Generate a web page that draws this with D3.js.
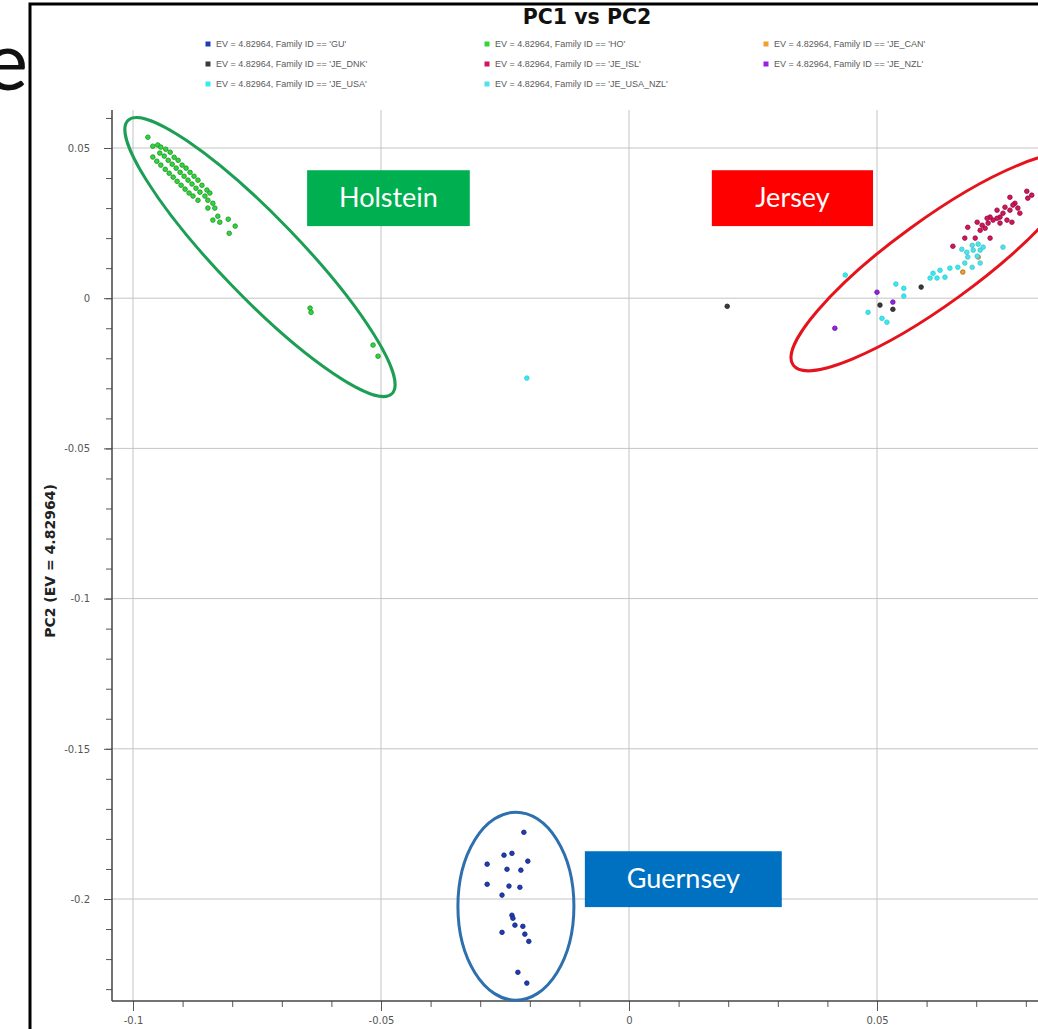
<!DOCTYPE html>
<html>
<head>
<meta charset="utf-8">
<script src="https://cdn.jsdelivr.net/npm/d3@7"></script>
<style>
    body { margin: 0; background: #fff; }
</style>
</head>
<body>
<div id="pca-plot"></div>
<script>
'use strict';

// family ids and legend colours
const familyIds = ['GU', 'HO', 'JE_CAN', 'JE_DNK', 'JE_ISL', 'JE_NZL', 'JE_USA', 'JE_USA_NZL'];
const familyColours = ['#1f3cb8', '#2fd83a', '#f0a02c', '#3a3a3a', '#d6145c', '#9a1fe6', '#36eaf2', '#4ee2ea'];

const xTicks = [-0.1, -0.05, 0, 0.05];
const xTickLabels = ['-0.1', '-0.05', '0', '0.05'];
const yTicks = [0.05, 0, -0.05, -0.1, -0.15, -0.2];
const yTickLabels = ['0.05', '0', '-0.05', '-0.1', '-0.15', '-0.2'];

// [PC1, PC2]
const guPoints = [
    [-0.0212, -0.1778], [-0.0252, -0.1854], [-0.0236, -0.1848], [-0.0204, -0.1874],
    [-0.0286, -0.1884], [-0.0246, -0.1901], [-0.0218, -0.1904], [-0.0286, -0.1951],
    [-0.0242, -0.1957], [-0.0220, -0.1961], [-0.0256, -0.1987], [-0.0236, -0.2054],
    [-0.0234, -0.2064], [-0.0230, -0.2087], [-0.0214, -0.2091], [-0.0256, -0.2111],
    [-0.0210, -0.2117], [-0.0202, -0.2141], [-0.0224, -0.2244], [-0.0206, -0.2280]
];
const hoPoints = [
    [-0.0970, 0.0536],
    [-0.0960, 0.0506], [-0.0950, 0.0510], [-0.0944, 0.0503],
    [-0.0946, 0.0483], [-0.0960, 0.0470], [-0.0934, 0.0496],
    [-0.0937, 0.0473], [-0.0952, 0.0456], [-0.0925, 0.0486],
    [-0.0929, 0.0459], [-0.0944, 0.0443], [-0.0917, 0.0469],
    [-0.0921, 0.0446], [-0.0935, 0.0429], [-0.0909, 0.0459],
    [-0.0913, 0.0433], [-0.0927, 0.0416], [-0.0901, 0.0443],
    [-0.0905, 0.0419], [-0.0919, 0.0403], [-0.0893, 0.0433],
    [-0.0897, 0.0406], [-0.0911, 0.0389], [-0.0885, 0.0419],
    [-0.0889, 0.0393], [-0.0903, 0.0376], [-0.0877, 0.0406],
    [-0.0881, 0.0380], [-0.0895, 0.0363], [-0.0869, 0.0393],
    [-0.0873, 0.0366], [-0.0887, 0.0350], [-0.0861, 0.0376],
    [-0.0865, 0.0353], [-0.0879, 0.0340], [-0.0851, 0.0360],
    [-0.0855, 0.0340], [-0.0869, 0.0326], [-0.0849, 0.0326],
    [-0.0845, 0.0350], [-0.0839, 0.0316], [-0.0835, 0.0300], [-0.0849, 0.0300],
    [-0.0839, 0.0260], [-0.0829, 0.0273], [-0.0825, 0.0253], [-0.0808, 0.0263],
    [-0.0794, 0.0240], [-0.0806, 0.0216], [-0.0643, -0.0033], [-0.0641, -0.0047],
    [-0.0516, -0.0156], [-0.0506, -0.0193]
];
const jeCanPoints = [[0.0704, 0.0137], [0.0673, 0.0087]];
const jeDnkPoints = [[0.0198, -0.0027], [0.0506, -0.0023], [0.0589, 0.0037], [0.0532, -0.0037]];
const jeIslPoints = [
    [0.0768, 0.0336], [0.0802, 0.0356], [0.0804, 0.0333], [0.0778, 0.0316],
    [0.0784, 0.0300], [0.0768, 0.0293], [0.0754, 0.0283], [0.0748, 0.0270],
    [0.0742, 0.0266], [0.0734, 0.0260], [0.0728, 0.0270], [0.0722, 0.0266],
    [0.0762, 0.0260], [0.0772, 0.0253], [0.0748, 0.0250], [0.0724, 0.0250],
    [0.0712, 0.0243], [0.0718, 0.0233], [0.0708, 0.0226], [0.0683, 0.0236],
    [0.0677, 0.0200], [0.0698, 0.0200], [0.0728, 0.0200], [0.0653, 0.0173],
    [0.0742, 0.0293], [0.0758, 0.0303], [0.0788, 0.0283], [0.0702, 0.0253],
    [0.0812, 0.0343], [0.0774, 0.0310]
];
const jeNzlPoints = [[0.0415, -0.0100], [0.0500, 0.0020], [0.0532, -0.0013]];
const jeUsaPoints = [
    [-0.0206, -0.0266], [0.0436, 0.0077], [0.0482, -0.0047], [0.0510, -0.0067],
    [0.0520, -0.0080], [0.0538, 0.0047], [0.0554, 0.0033], [0.0554, 0.0007],
    [0.0607, 0.0067], [0.0613, 0.0083], [0.0621, 0.0067], [0.0627, 0.0093],
    [0.0637, 0.0070], [0.0647, 0.0100], [0.0663, 0.0103]
];
const jeUsaNzlPoints = [
    [0.0671, 0.0163], [0.0677, 0.0117], [0.0681, 0.0153], [0.0683, 0.0137],
    [0.0692, 0.0176], [0.0692, 0.0103], [0.0694, 0.0160], [0.0702, 0.0140],
    [0.0704, 0.0180], [0.0708, 0.0160], [0.0708, 0.0117], [0.0714, 0.0170],
    [0.0754, 0.0170]
];
const familyPoints = [guPoints, hoPoints, jeCanPoints, jeDnkPoints, jeIslPoints, jeNzlPoints, jeUsaPoints, jeUsaNzlPoints];

// breed call-outs: label box corners and ellipse centre / major-axis tip, in PC units
const breedNames = ['Holstein', 'Jersey', 'Guernsey'];
const breedBoxes = [[-0.0649, 0.0426, -0.0321, 0.0240], [0.0167, 0.0426, 0.0492, 0.0240], [-0.0089, -0.1841, 0.0308, -0.2027]];
const breedCentres = [[-0.0744, 0.0137], [0.0617, 0.0120], [-0.0228, -0.2024]];
const breedTips = [[-0.1010, 0.0592], [0.0331, -0.0223], [-0.0228, -0.1711]];

function drawPcaPlot() {
    const width = 1038;
    const height = 1029;
    const plot = { left: 112, right: 1130, top: 110, bottom: 1001 };
    const breedFills = ['#00b050', '#ff0000', '#0070c0'];
    const breedStrokes = ['#1c9f55', '#e5141c', '#2e6fae'];
    const breedHalfWidths = [40, 42, 58];

    const svg = d3.select('#pca-plot')
        .append('svg')
        .attr('width', width)
        .attr('height', height)
        .style('font-family', '"DejaVu Sans", sans-serif');

    const xScale = d3.scaleLinear()
        .domain([-0.1, 0.05])
        .range([133, 877]);

    const yScale = d3.scaleLinear()
        .domain([0.05, -0.2])
        .range([148, 899]);

    // slide text from behind the screenshot, partly off the left edge
    svg.append('text')
        .attr('x', 28)
        .attr('y', 90)
        .attr('text-anchor', 'end')
        .attr('font-family', 'Lato, sans-serif')
        .attr('font-size', 82)
        .attr('fill', '#111')
        .text('e');

    svg.append('rect')
        .attr('x', 30)
        .attr('y', 4)
        .attr('width', 1200)
        .attr('height', 1200)
        .attr('fill', 'none')
        .attr('stroke', '#000')
        .attr('stroke-width', 3);

    svg.append('text')
        .attr('x', 587)
        .attr('y', 24)
        .attr('text-anchor', 'middle')
        .attr('font-size', 20.5)
        .attr('font-weight', 700)
        .attr('fill', '#111')
        .text('PC1 vs PC2');

    const legendCols = [208, 487, 766];
    const legendRows = [44, 64, 84];
    const legend = svg.append('g');
    familyIds.forEach(function (id, i) {
        const x = legendCols[i % 3];
        const y = legendRows[Math.floor(i / 3)];
        legend.append('rect')
            .attr('x', x - 2.5)
            .attr('y', y - 2.5)
            .attr('width', 5)
            .attr('height', 5)
            .attr('fill', familyColours[i]);
        legend.append('text')
            .attr('x', x + 8)
            .attr('y', y + 3)
            .attr('font-family', '"Liberation Sans", sans-serif')
            .attr('font-size', 9)
            .attr('fill', '#5a5a5a')
            .text("EV = 4.82964, Family ID == '" + id + "'");
    });

    // grid
    svg.append('g')
        .selectAll('line')
        .data(xTicks)
        .join('line')
        .attr('x1', d => xScale(d))
        .attr('x2', d => xScale(d))
        .attr('y1', plot.top)
        .attr('y2', plot.bottom)
        .attr('stroke', '#c4c4c4');

    svg.append('g')
        .selectAll('line')
        .data(yTicks)
        .join('line')
        .attr('x1', plot.left)
        .attr('x2', plot.right)
        .attr('y1', d => yScale(d))
        .attr('y2', d => yScale(d))
        .attr('stroke', '#c4c4c4');

    const xMinor = d3.range(-10, 9).map(d => d / 100);
    const yMinor = d3.range(-23, 7).map(d => d / 100);

    const xAxisG = svg.append('g')
        .attr('transform', `translate(0,${plot.bottom})`);
    xAxisG.append('g')
        .call(d3.axisBottom(xScale).tickValues(xMinor).tickSize(6).tickFormat(''));
    xAxisG.append('g')
        .call(d3.axisBottom(xScale).tickValues(xTicks).tickSize(10).tickPadding(6)
            .tickFormat((d, i) => xTickLabels[i]));

    const yAxisG = svg.append('g')
        .attr('transform', `translate(${plot.left},0)`);
    yAxisG.append('g')
        .call(d3.axisLeft(yScale).tickValues(yMinor).tickSize(6).tickFormat(''));
    yAxisG.append('g')
        .call(d3.axisLeft(yScale).tickValues(yTicks).tickSize(8).tickPadding(14)
            .tickFormat((d, i) => yTickLabels[i]));

    svg.selectAll('.domain').remove();
    svg.selectAll('.tick line').attr('stroke', '#555');
    svg.selectAll('.tick text')
        .attr('fill', '#555')
        .attr('font-size', 10)
        .attr('font-family', '"DejaVu Sans", sans-serif');

    svg.append('line')
        .attr('x1', plot.left)
        .attr('x2', plot.right)
        .attr('y1', plot.bottom)
        .attr('y2', plot.bottom)
        .attr('stroke', '#444')
        .attr('stroke-width', 1.5);

    svg.append('line')
        .attr('x1', plot.left)
        .attr('x2', plot.left)
        .attr('y1', plot.top)
        .attr('y2', plot.bottom)
        .attr('stroke', '#444')
        .attr('stroke-width', 1.5);

    svg.append('text')
        .attr('transform', 'rotate(-90)')
        .attr('x', -561)
        .attr('y', 55)
        .attr('text-anchor', 'middle')
        .attr('font-size', 14)
        .attr('font-weight', 700)
        .attr('fill', '#222')
        .text('PC2 (EV = 4.82964)');

    // points
    familyIds.forEach(function (id, i) {
        const colour = familyColours[i];
        const isCyan = id.startsWith('JE_USA');
        svg.append('g')
            .selectAll('circle')
            .data(familyPoints[i])
            .join('circle')
            .attr('cx', d => xScale(d[0]))
            .attr('cy', d => yScale(d[1]))
            .attr('r', 2.3)
            .attr('fill', colour)
            .attr('stroke', d3.color(colour).darker(isCyan ? 0.4 : 1.2))
            .attr('stroke-width', 0.8);
    });

    // breed ellipses and labels
    breedNames.forEach(function (name, i) {
        const cx = xScale(breedCentres[i][0]);
        const cy = yScale(breedCentres[i][1]);
        const tx = xScale(breedTips[i][0]);
        const ty = yScale(breedTips[i][1]);
        const a = Math.hypot(tx - cx, ty - cy);
        const angle = Math.atan2(ty - cy, tx - cx) * 180 / Math.PI;

        svg.append('ellipse')
            .attr('transform', `translate(${cx},${cy}) rotate(${angle})`)
            .attr('rx', a)
            .attr('ry', breedHalfWidths[i])
            .attr('fill', 'none')
            .attr('stroke', breedStrokes[i])
            .attr('stroke-width', 3);

        const box = breedBoxes[i];
        const x0 = xScale(box[0]);
        const y0 = yScale(box[1]);
        const x1 = xScale(box[2]);
        const y1 = yScale(box[3]);
        svg.append('rect')
            .attr('x', x0)
            .attr('y', y0)
            .attr('width', x1 - x0)
            .attr('height', y1 - y0)
            .attr('fill', breedFills[i]);
        svg.append('text')
            .attr('x', (x0 + x1) / 2)
            .attr('y', (y0 + y1) / 2 + 9)
            .attr('text-anchor', 'middle')
            .attr('font-family', 'Lato, sans-serif')
            .attr('font-size', 27)
            .attr('fill', '#fff')
            .text(name);
    });
}

drawPcaPlot();
</script>
</body>
</html>
